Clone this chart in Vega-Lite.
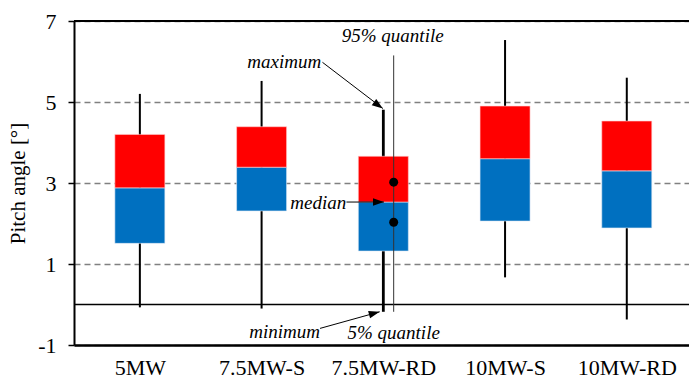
{
  "$schema": "https://vega.github.io/schema/vega-lite/v6.json",
  "autosize": "none",
  "width": 615,
  "height": 324,
  "padding": {"left": 74, "top": 21, "right": 0, "bottom": 36},
  "config": {
    "font": "Liberation Serif",
    "view": {"stroke": null},
    "axis": {"labelFont": "Liberation Serif", "titleFont": "Liberation Serif"},
    "text": {"font": "Liberation Serif"}
  },
  "datasets": {
    "boxes": [
      {"name": "5MW", "x": 0.5, "lo": -0.07, "q1": 1.51, "med": 2.88, "q3": 4.2, "hi": 5.2},
      {"name": "7.5MW-S", "x": 1.5, "lo": -0.1, "q1": 2.31, "med": 3.39, "q3": 4.39, "hi": 5.52},
      {"name": "7.5MW-RD", "x": 2.5, "lo": -0.18, "q1": 1.32, "med": 2.53, "q3": 3.66, "hi": 4.81},
      {"name": "10MW-S", "x": 3.5, "lo": 0.67, "q1": 2.06, "med": 3.6, "q3": 4.9, "hi": 6.53},
      {"name": "10MW-RD", "x": 4.5, "lo": -0.37, "q1": 1.89, "med": 3.3, "q3": 4.53, "hi": 5.6}
    ],
    "refs": [{"zero": 0, "top": 7}],
    "qline": [{"x": 2.585, "y": 6.15, "y2": -0.18}],
    "dots": [{"x": 2.585, "y": 3.02}, {"x": 2.585, "y": 2.03}],
    "arrows": [
      {"x": 2.0, "y": 5.98, "x2": 2.496, "y2": 4.84, "ang": 126},
      {"x": 2.197, "y": 2.53, "x2": 2.505, "y2": 2.53, "ang": 90},
      {"x": 1.98, "y": -0.59, "x2": 2.47, "y2": -0.18, "ang": 75}
    ],
    "clabels": [
      {"text": "95% quantile", "x": 2.577, "y": 6.62},
      {"text": "5% quantile", "x": 2.585, "y": -0.71}
    ],
    "rlabels": [
      {"text": "maximum", "x": 1.99, "y": 5.98},
      {"text": "median", "x": 2.195, "y": 2.5},
      {"text": "minimum", "x": 1.98, "y": -0.68}
    ]
  },
  "layer": [
    {
      "data": {"name": "boxes"},
      "mark": {"type": "rule", "color": "black"},
      "encoding": {
        "x": {
          "field": "x", "type": "quantitative", "title": null,
          "scale": {"domain": [0, 4.97], "nice": false, "zero": false},
          "axis": {
            "values": [0.5, 1.5, 2.5, 3.5, 4.5],
            "labelExpr": "datum.value < 1 ? '5MW' : datum.value < 2 ? '7.5MW-S' : datum.value < 3 ? '7.5MW-RD' : datum.value < 4 ? '10MW-S' : '10MW-RD'",
            "grid": false, "ticks": false,
            "domainColor": "black", "domainWidth": 2.5,
            "labelFont": "Liberation Serif",
            "labelFontSize": 22, "labelColor": "black", "labelPadding": 12,
            "labelFlush": false, "labelOverlap": false
          }
        },
        "y": {
          "field": "lo", "type": "quantitative", "title": "Pitch angle [°]",
          "scale": {"domain": [-1, 7], "nice": false, "zero": false},
          "axis": {
            "values": [-1, 1, 3, 5, 7],
            "labelExpr": "datum.value < 0 ? '-' + abs(datum.value) : '' + datum.value",
            "titleFont": "Liberation Serif", "titleFontSize": 21, "titleFontWeight": "normal",
            "titleColor": "black", "titlePadding": 9,
            "grid": true, "gridDash": [6, 4], "gridColor": "#808080", "gridWidth": 1.3,
            "domainColor": "black", "domainWidth": 2,
            "tickColor": "black", "tickSize": 6, "tickWidth": 1.5,
            "labelFont": "Liberation Serif",
            "labelFontSize": 22, "labelColor": "black", "labelPadding": 12
          }
        },
        "y2": {"field": "hi"},
        "strokeWidth": {"condition": {"test": "datum.name === '7.5MW-RD'", "value": 2.8}, "value": 2}
      }
    },
    {
      "data": {"name": "boxes"},
      "mark": {"type": "bar", "color": "#0070C0", "size": 50, "stroke": "#dfe9f5", "strokeWidth": 0.6},
      "encoding": {
        "x": {"field": "x", "type": "quantitative", "title": null},
        "y": {"field": "q1", "type": "quantitative", "title": "Pitch angle [°]"},
        "y2": {"field": "med"}
      }
    },
    {
      "data": {"name": "boxes"},
      "mark": {"type": "bar", "color": "#FF0000", "size": 50, "stroke": "#ffd0d0", "strokeWidth": 0.6},
      "encoding": {
        "x": {"field": "x", "type": "quantitative", "title": null},
        "y": {"field": "med", "type": "quantitative", "title": "Pitch angle [°]"},
        "y2": {"field": "q3"}
      }
    },
    {
      "data": {"name": "refs"},
      "mark": {"type": "rule", "color": "black", "strokeWidth": 1.6},
      "encoding": {"y": {"field": "zero", "type": "quantitative", "title": "Pitch angle [°]"}}
    },
    {
      "data": {"name": "refs"},
      "mark": {"type": "rule", "color": "black", "strokeWidth": 2},
      "encoding": {"y": {"field": "top", "type": "quantitative", "title": "Pitch angle [°]"}}
    },
    {
      "data": {"name": "qline"},
      "mark": {"type": "rule", "color": "#333333", "strokeWidth": 1},
      "encoding": {
        "x": {"field": "x", "type": "quantitative", "title": null},
        "y": {"field": "y", "type": "quantitative", "title": "Pitch angle [°]"},
        "y2": {"field": "y2"}
      }
    },
    {
      "data": {"name": "dots"},
      "mark": {"type": "point", "filled": true, "color": "black", "size": 80, "opacity": 1},
      "encoding": {
        "x": {"field": "x", "type": "quantitative", "title": null},
        "y": {"field": "y", "type": "quantitative", "title": "Pitch angle [°]"}
      }
    },
    {
      "data": {"name": "arrows"},
      "mark": {"type": "rule", "color": "black", "strokeWidth": 1},
      "encoding": {
        "x": {"field": "x", "type": "quantitative", "title": null},
        "y": {"field": "y", "type": "quantitative", "title": "Pitch angle [°]"},
        "x2": {"field": "x2"},
        "y2": {"field": "y2"}
      }
    },
    {
      "data": {"name": "arrows"},
      "mark": {"type": "point", "shape": "M0,0L-0.35,1L0.35,1Z", "filled": true, "color": "black", "size": 480, "opacity": 1},
      "encoding": {
        "x": {"field": "x2", "type": "quantitative", "title": null},
        "y": {"field": "y2", "type": "quantitative", "title": "Pitch angle [°]"},
        "angle": {"field": "ang", "type": "quantitative", "scale": null}
      }
    },
    {
      "data": {"name": "clabels"},
      "mark": {"type": "text", "font": "Liberation Serif", "fontStyle": "italic", "fontSize": 19, "color": "black", "baseline": "middle", "align": "center"},
      "encoding": {
        "x": {"field": "x", "type": "quantitative", "title": null},
        "y": {"field": "y", "type": "quantitative", "title": "Pitch angle [°]"},
        "text": {"field": "text"}
      }
    },
    {
      "data": {"name": "rlabels"},
      "mark": {"type": "text", "font": "Liberation Serif", "fontStyle": "italic", "fontSize": 19, "color": "black", "baseline": "middle", "align": "right"},
      "encoding": {
        "x": {"field": "x", "type": "quantitative", "title": null},
        "y": {"field": "y", "type": "quantitative", "title": "Pitch angle [°]"},
        "text": {"field": "text"}
      }
    }
  ]
}
